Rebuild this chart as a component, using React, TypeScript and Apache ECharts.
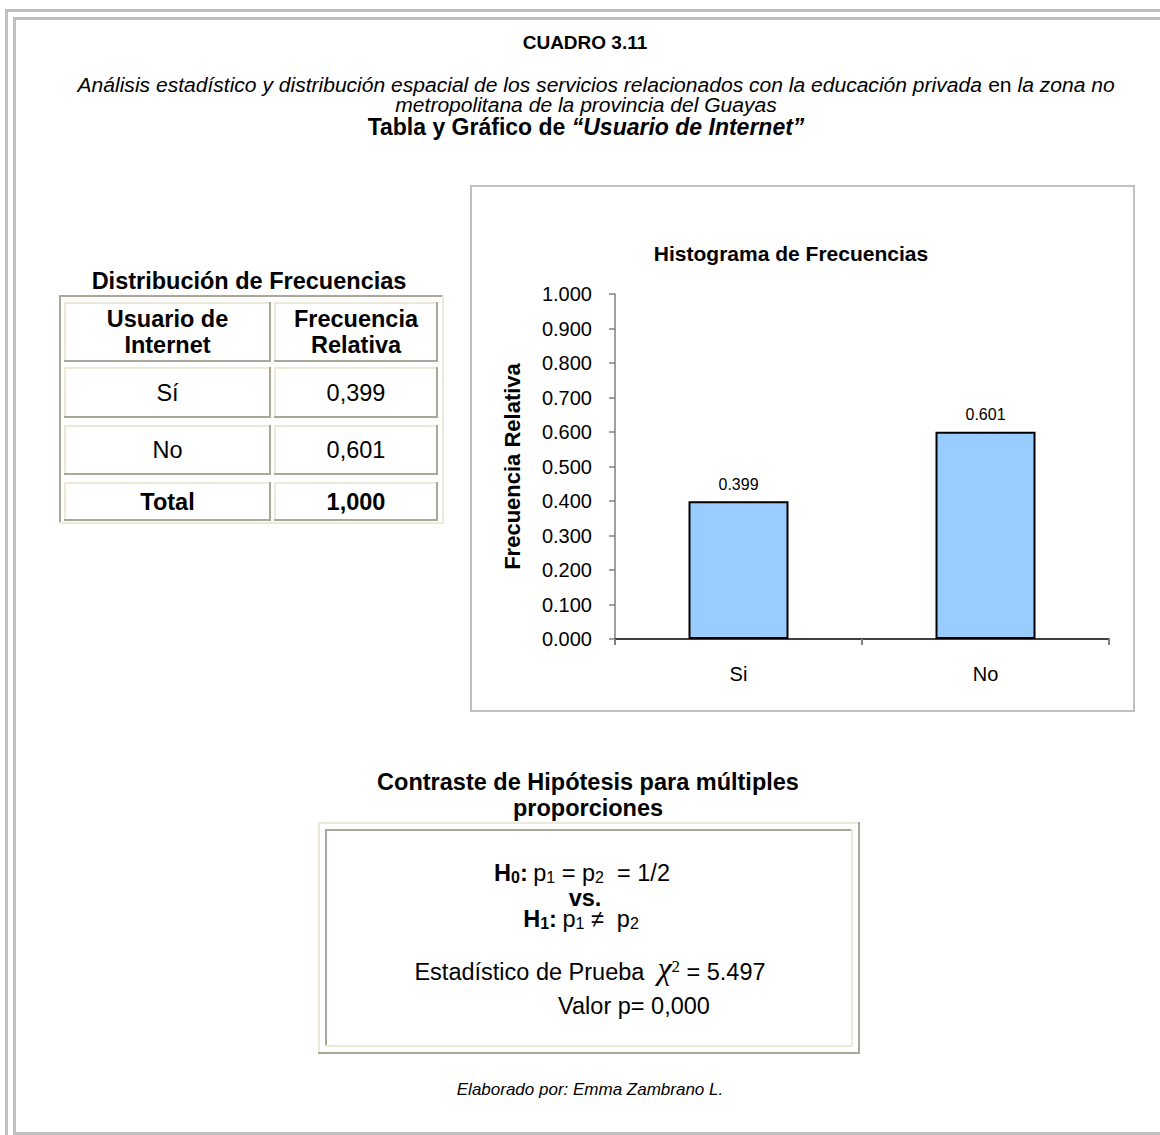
import React, { useEffect, useRef } from "react";
import * as echarts from "echarts";

const categories = ["Si", "No"];
const relativeFrequency = [0.399, 0.601];
const tableCategories = ["Sí", "No"];
const tableValues = ["0,399", "0,601"];
const tableTotal = "1,000";
const tableHeaders = ["Usuario de\nInternet", "Frecuencia\nRelativa"];

const FF = "'Liberation Sans', Arial, sans-serif";
const SERIF = "'Liberation Serif', 'DejaVu Serif', serif";
const FRAME = "#c0c0c0";
const LIGHT = "#ece9d8";
const DARK = "#aca899";

function box(x: number, y: number, w: number, h: number, fill: string) {
  return { type: "rect", silent: true, shape: { x, y, width: w, height: h }, style: { fill } };
}
function bevel(x: number, y: number, w: number, h: number, tl: string, br: string, t = 2) {
  return [
    box(x, y, w, t, tl),
    box(x, y, t, h, tl),
    box(x, y + h - t, w, t, br),
    box(x + w - t, y, t, h, br),
  ];
}
function txt(x: number, y: number, text: string, opts: any = {}, extra: any = {}) {
  return {
    type: "text",
    silent: true,
    x,
    y,
    ...extra,
    style: {
      text,
      fontFamily: FF,
      fontSize: 20,
      fill: "#000",
      align: "center",
      verticalAlign: "middle",
      ...opts,
    },
  };
}

export default function App() {
  const ref = useRef<HTMLDivElement>(null);
  useEffect(() => {
    if (!ref.current) return;
    const chart = echarts.init(ref.current, null, { renderer: "svg" });

    const g: any[] = [];
    // page frame
    g.push(box(5, 9, 1155, 3, FRAME));
    g.push(box(5, 9, 3, 1126, FRAME));
    g.push(box(13, 17, 1147, 3, FRAME));
    g.push(box(13, 17, 3, 1115, FRAME));
    g.push(box(13, 1132, 1147, 3, FRAME));

    // headings
    g.push(txt(585, 42, "CUADRO 3.11", { fontWeight: "bold", fontSize: 19 }));
    g.push(
      txt(
        596,
        85,
        "{i|Análisis estadístico y distribución espacial de los servicios relacionados con la educación privada} {n|en} {i|la zona no}",
        {
          rich: {
            i: { fontStyle: "italic", fontSize: 19.5, fontFamily: FF, fill: "#000", lineHeight: 19 },
            n: { fontSize: 19.5, fontFamily: FF, fill: "#000", lineHeight: 19 },
          },
        },
        { scaleX: 1.08 }
      )
    );
    g.push(
      txt(586, 105, "metropolitana de la provincia del Guayas", { fontStyle: "italic", fontSize: 19.5, lineHeight: 19 }, { scaleX: 1.08 })
    );
    g.push(
      txt(586, 127, "{b|Tabla y Gráfico de }{bi|“Usuario de Internet”}", {
        rich: {
          b: { fontWeight: "bold", fontSize: 23, fontFamily: FF, fill: "#000", lineHeight: 20 },
          bi: { fontWeight: "bold", fontStyle: "italic", fontSize: 23, fontFamily: FF, fill: "#000", lineHeight: 20 },
        },
      })
    );

    // chart box
    g.push({
      type: "rect",
      silent: true,
      shape: { x: 471, y: 186, width: 663, height: 525 },
      style: { fill: "none", stroke: FRAME, lineWidth: 2 },
    });
    g.push(txt(791, 253, "Histograma de Frecuencias", { fontWeight: "bold", fontSize: 21 }));

    // table
    g.push(txt(249, 281, "Distribución de Frecuencias", { fontWeight: "bold", fontSize: 23.5 }));
    g.push(...bevel(59, 295, 385, 229, DARK, LIGHT));
    const cols = [
      { x: 64, w: 207 },
      { x: 274, w: 164 },
    ];
    const rows = [
      { y: 302, h: 60 },
      { y: 367, h: 51 },
      { y: 425, h: 50 },
      { y: 482, h: 39 },
    ];
    rows.forEach((r) => cols.forEach((c) => g.push(...bevel(c.x, r.y, c.w, r.h, LIGHT, DARK))));
    const cx = cols.map((c) => c.x + c.w / 2);
    tableHeaders.forEach((h, i) =>
      g.push(txt(cx[i], 332, h, { fontWeight: "bold", fontSize: 23.5, lineHeight: 26 }))
    );
    tableCategories.forEach((c, i) => {
      const y = rows[i + 1].y + rows[i + 1].h / 2;
      g.push(txt(cx[0], y, c, { fontSize: 23.5 }));
      g.push(txt(cx[1], y, tableValues[i], { fontSize: 23.5 }));
    });
    g.push(txt(cx[0], 502, "Total", { fontSize: 23.5, fontWeight: "bold" }));
    g.push(txt(cx[1], 502, tableTotal, { fontSize: 23.5, fontWeight: "bold" }));

    // hypothesis box
    g.push(txt(588, 782, "Contraste de Hipótesis para múltiples", { fontWeight: "bold", fontSize: 23.5, lineHeight: 24 }));
    g.push(txt(588, 808, "proporciones", { fontWeight: "bold", fontSize: 23.5, lineHeight: 24 }));
    g.push(...bevel(318, 822, 542, 232, LIGHT, DARK));
    g.push(...bevel(325, 829, 528, 218, DARK, LIGHT));

    const rich = {
      hb: { fontWeight: "bold", fontSize: 23.5, fontFamily: FF, fill: "#000", verticalAlign: "bottom", lineHeight: 20 },
      hbs: { fontWeight: "bold", fontSize: 16, fontFamily: FF, fill: "#000", verticalAlign: "bottom", lineHeight: 16 },
      r: { fontSize: 23.5, fontFamily: FF, fill: "#000", verticalAlign: "bottom", lineHeight: 20 },
      s: { fontSize: 16, fontFamily: FF, fill: "#000", verticalAlign: "bottom", lineHeight: 16 },
      chi: { fontSize: 32, fontStyle: "italic", fontFamily: SERIF, fill: "#000", verticalAlign: "bottom", lineHeight: 26 },
      sup: { fontSize: 17, fontFamily: SERIF, fill: "#000", verticalAlign: "top", lineHeight: 16 },
    };
    g.push(txt(582, 875, "{hb|H}{hbs|0}{hb|:} {r|p}{s|1}{r| = p}{s|2}{r|  = 1/2}", { rich }));
    g.push(txt(585, 898, "vs.", { fontWeight: "bold", fontSize: 23.5, lineHeight: 18 }));
    g.push(txt(581, 921, "{hb|H}{hbs|1}{hb|:} {r|p}{s|1}{r| ≠  p}{s|2}", { rich }));
    g.push(txt(590, 971, "{r|Estadístico de Prueba  }{chi|χ}{sup|2}{r| = 5.497}", { rich }));
    g.push(txt(634, 1006, "Valor p= 0,000", { fontSize: 23.5, lineHeight: 22 }));

    // footer
    g.push(txt(590, 1089, "Elaborado por: Emma Zambrano L.", { fontStyle: "italic", fontSize: 17 }));

    chart.setOption({
      animation: false,
      backgroundColor: "#fff",
      grid: { left: 615, top: 294, right: 51, bottom: 496, containLabel: false },
      xAxis: {
        type: "category",
        data: categories,
        axisLine: { lineStyle: { color: "#000", width: 1.5 } },
        axisTick: { show: true, alignWithLabel: false, length: 6, lineStyle: { color: "#808080", width: 2 } },
        axisLabel: { fontSize: 20, fontFamily: FF, color: "#000", margin: 25 },
        splitLine: { show: false },
      },
      yAxis: {
        type: "value",
        min: 0,
        max: 1,
        interval: 0.1,
        name: "Frecuencia Relativa",
        nameLocation: "middle",
        nameGap: 92,
        nameRotate: 90,
        nameTextStyle: { fontSize: 22, fontWeight: "bold", fontFamily: FF, color: "#000" },
        axisLine: { show: true, lineStyle: { color: "#808080", width: 1.5 } },
        axisTick: { show: true, length: 6, lineStyle: { color: "#808080", width: 1.5 } },
        axisLabel: {
          fontSize: 20,
          fontFamily: FF,
          color: "#000",
          margin: 23,
          formatter: (v: number) => v.toFixed(3),
        },
        splitLine: { show: false },
      },
      series: [
        {
          type: "bar",
          data: relativeFrequency,
          barWidth: 100,
          itemStyle: { color: "#99ccff", borderColor: "#000", borderWidth: 2 },
          label: {
            show: true,
            position: "top",
            distance: 9,
            fontSize: 16,
            fontFamily: FF,
            color: "#000",
            formatter: (p: any) => Number(p.value).toFixed(3),
          },
        },
      ],
      graphic: { elements: g },
    });
    return () => chart.dispose();
  }, []);
  return (
    <div
      ref={ref}
      style={{ position: "absolute", left: 0, top: 0, width: 1160, height: 1135, background: "#fff" }}
    />
  );
}
